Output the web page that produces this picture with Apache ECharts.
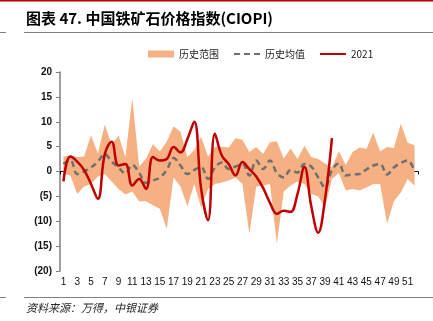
<!DOCTYPE html>
<html><head><meta charset="utf-8">
<script src="https://cdn.jsdelivr.net/npm/echarts@6/dist/echarts.min.js"></script>
<style>html,body{margin:0;padding:0;background:#fff}#c{width:433px;height:321px}</style>
</head><body><div id="c"></div>
<script>
const categories = Array.from({length: 52}, (_, i) => String(i + 1));
const histMax = [3.0,3.2,2.9,3.0,7.3,3.6,9.4,5.5,7.2,2.9,14.7,1.0,2.6,5.5,4.0,6.0,9.1,8.0,2.9,4.3,7.0,3.0,5.0,5.0,4.8,6.7,6.4,3.9,4.9,3.5,5.9,6.1,2.6,4.6,2.5,5.2,2.9,2.5,1.6,0.8,4.1,1.3,3.9,4.8,4.5,7.8,4.0,4.9,4.7,9.6,5.8,5.3];
const histMin = [-0.5,-0.8,-4.5,-3.0,-2.5,-1.0,-0.5,-2.0,-3.5,-4.6,-4.0,-6.0,-6.0,-6.8,-7.5,-11.5,-1.2,-3.0,-7.0,-2.5,-7.3,-3.5,-2.5,-2.2,-1.8,-1.2,-2.5,-12.5,-3.0,-2.8,-2.5,-14.5,-4.0,-2.8,-2.0,-2.5,-4.5,-5.0,-7.2,-1.5,-0.3,-3.8,-3.5,-3.8,-3.2,-2.5,-2.5,-10.5,-6.0,-4.2,-1.5,-2.8];
const histMean = [1.5,2.3,-0.5,0.0,0.8,2.0,3.5,2.0,0.8,-0.4,1.3,-0.3,-2.3,-1.8,-1.2,0.3,2.7,1.2,-0.5,0.3,0.9,-1.5,0.8,1.8,0.5,1.0,1.5,-0.8,2.2,0.5,2.2,-0.3,-1.2,0.3,-0.2,1.5,1.0,-1.2,-3.2,0.3,1.6,-0.8,-0.6,-0.5,0.4,1.2,1.5,-0.6,0.8,1.7,2.2,0.0];
const y2021 = [-2.0,3.0,2.0,0.3,-2.5,-5.5,3.5,6.0,1.2,1.5,-2.8,-1.5,-3.5,2.9,2.2,2.5,4.9,3.8,6.5,10.0,-3.5,-9.8,7.6,3.2,1.5,-0.8,1.9,0.5,-1.0,-3.3,-6.3,-8.5,-7.9,-8.1,-4.5,0.9,-7.0,-12.3,-5.5,6.7];
const yTicks = [-20,-15,-10,-5,0,5,10,15,20];

const rangeDiff = histMax.map((v, i) => +(v - histMin[i]).toFixed(2));
const chart = echarts.init(document.getElementById('c'));
const fam = 'Liberation Sans, Arial, sans-serif';
chart.setOption({
  animation: false,
  grid: {left: 60, right: 15, top: 72, bottom: 50},
  legend: {
    top: 44, left: 143, itemGap: 14, itemWidth: 26, itemHeight: 7,
    textStyle: {fontSize: 10, color: '#222', fontFamily: 'Noto Sans CJK SC, sans-serif'},
    data: [{name: '历史范围', icon: 'rect'},
           {name: '历史均值', itemStyle: {opacity: 0}},
           {name: '2021', itemStyle: {opacity: 0}}]
  },
  xAxis: [{
    type: 'category', data: categories, boundaryGap: true,
    axisLine: {onZero: true, lineStyle: {color: '#000', width: 1}},
    axisTick: {show: true, length: 3, lineStyle: {color: '#000'}},
    axisLabel: {show: false}
  }, {
    type: 'category', data: categories, boundaryGap: true, position: 'bottom',
    axisLine: {show: false, onZero: false}, axisTick: {show: false},
    axisLabel: {interval: 1, fontSize: 10, color: '#111', fontFamily: fam, margin: 6}
  }],
  yAxis: {
    type: 'value', min: -20, max: 20, interval: 5,
    splitLine: {show: false},
    axisLine: {show: true, lineStyle: {color: '#7f7f7f', width: 1.5}},
    axisTick: {show: true, length: 4, lineStyle: {color: '#7f7f7f'}},
    axisLabel: {fontSize: 10, color: '#111', fontWeight: 'bold', fontFamily: fam, margin: 8,
      formatter: v => v < 0 ? '(' + Math.abs(v) + ')' : String(v)}
  },
  series: [
    {name: 'base', type: 'line', stack: 'r', stackStrategy: 'all', data: histMin, symbol: 'none',
     lineStyle: {opacity: 0}, silent: true},
    {name: '历史范围', type: 'line', stack: 'r', stackStrategy: 'all', data: rangeDiff, symbol: 'none',
     lineStyle: {opacity: 0}, itemStyle: {color: '#F5B183'},
     areaStyle: {color: '#F5B183', opacity: 1}},
    {name: '历史均值', type: 'line', data: histMean, symbol: 'none', smooth: 0.4,
     itemStyle: {color: '#6f6f6f'},
     lineStyle: {color: '#6f6f6f', width: 2.5, type: [6, 4]}},
    {name: '2021', type: 'line', data: y2021, symbol: 'none', smooth: 0.4,
     itemStyle: {color: '#C00000'},
     lineStyle: {color: '#C00000', width: 2.5}}
  ],
  graphic: [
    {type: 'rect', shape: {x: 0, y: 0, width: 433, height: 1.5}, style: {fill: '#C00000'}},
    {type: 'text', left: 26, top: 11, style: {text: '图表 47. 中国铁矿石价格指数(CIOPI)', fontSize: 15, fontWeight: 'bold', fill: '#000', fontFamily: 'Noto Sans CJK SC, sans-serif'}},
    {type: 'rect', shape: {x: 24, y: 32, width: 409, height: 1}, style: {fill: '#808080'}},
    {type: 'rect', shape: {x: 0, y: 32, width: 6, height: 1}, style: {fill: '#808080'}},
    {type: 'rect', shape: {x: 24, y: 297, width: 409, height: 1}, style: {fill: '#808080'}},
    {type: 'rect', shape: {x: 0, y: 297, width: 6, height: 1}, style: {fill: '#808080'}},
    {type: 'text', left: 26, top: 302, style: {text: '资料来源：万得，中银证券', fontSize: 11, fontStyle: 'italic', fill: '#222', fontFamily: 'Noto Sans CJK SC, sans-serif'}}
  ]
});
</script></body></html>
